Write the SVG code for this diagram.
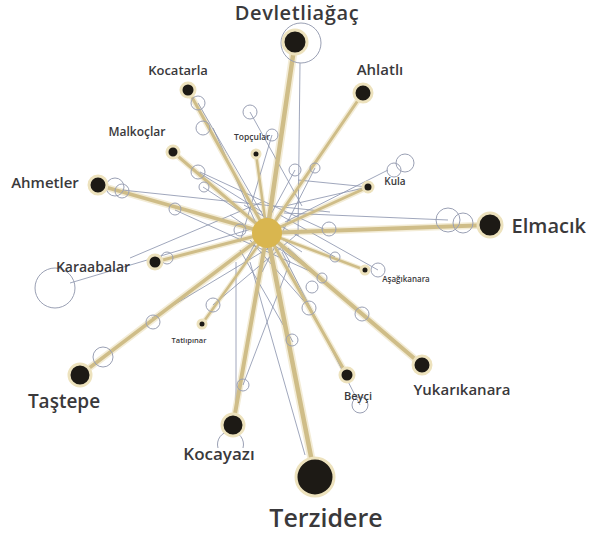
<svg xmlns="http://www.w3.org/2000/svg" width="589" height="541" viewBox="0 0 589 541">
<style>
.thin{stroke:#8891ab;stroke-width:0.8;fill:none}
.ring{stroke:#9aa0b4;stroke-width:1;fill:none}
.glow{stroke:#f3ecd6;stroke-linecap:round;fill:none}
.bar{stroke:#cfbd88;stroke-linecap:round;fill:none}
.dot{fill:#1d1a15;stroke:#ede2bd;stroke-width:3}
.lbl{font-family:"Open Sans","Liberation Sans",sans-serif;font-weight:600;fill:#3a393b;text-anchor:middle}
</style>
<rect width="589" height="541" fill="#ffffff"/>
<g id="connectors">
<g id="thick-glow">
<line class="glow" stroke-width="8" x1="267" y1="233" x2="295" y2="42"/>
<line class="glow" stroke-width="6" x1="267" y1="233" x2="363" y2="93"/>
<line class="glow" stroke-width="6" x1="267" y1="233" x2="188" y2="90"/>
<line class="glow" stroke-width="6" x1="267" y1="233" x2="173" y2="152"/>
<line class="glow" stroke-width="5" x1="267" y1="233" x2="256" y2="154"/>
<line class="glow" stroke-width="6" x1="267" y1="233" x2="368" y2="187"/>
<line class="glow" stroke-width="7" x1="267" y1="233" x2="98" y2="185"/>
<line class="glow" stroke-width="7" x1="267" y1="233" x2="490" y2="225"/>
<line class="glow" stroke-width="6" x1="267" y1="233" x2="155" y2="262"/>
<line class="glow" stroke-width="5" x1="267" y1="233" x2="365" y2="270"/>
<line class="glow" stroke-width="5" x1="267" y1="233" x2="202" y2="324"/>
<line class="glow" stroke-width="7" x1="267" y1="233" x2="80" y2="375"/>
<line class="glow" stroke-width="7" x1="267" y1="233" x2="233" y2="425"/>
<line class="glow" stroke-width="8" x1="267" y1="233" x2="315" y2="477"/>
<line class="glow" stroke-width="6" x1="267" y1="233" x2="347" y2="375"/>
<line class="glow" stroke-width="7" x1="267" y1="233" x2="422" y2="365"/>
</g>
<g id="thin-lines">
<line class="thin" x1="300" y1="63" x2="298" y2="236"/>
<line class="thin" x1="198" y1="103" x2="290" y2="262"/>
<line class="thin" x1="250" y1="112" x2="302" y2="206"/>
<line class="thin" x1="272" y1="135" x2="240" y2="242"/>
<line class="thin" x1="122" y1="190" x2="330" y2="212"/>
<line class="thin" x1="285" y1="206" x2="368" y2="187"/>
<line class="thin" x1="298" y1="180" x2="368" y2="187"/>
<line class="thin" x1="200" y1="172" x2="330" y2="232"/>
<line class="thin" x1="70" y1="283" x2="268" y2="224"/>
<line class="thin" x1="130" y1="258" x2="262" y2="202"/>
<line class="thin" x1="152" y1="318" x2="272" y2="246"/>
<line class="thin" x1="213" y1="305" x2="302" y2="230"/>
<line class="thin" x1="236" y1="262" x2="236" y2="415"/>
<line class="thin" x1="243" y1="385" x2="290" y2="262"/>
<line class="thin" x1="293" y1="342" x2="240" y2="250"/>
<line class="thin" x1="310" y1="308" x2="250" y2="240"/>
<line class="thin" x1="362" y1="315" x2="288" y2="248"/>
<line class="thin" x1="378" y1="270" x2="280" y2="215"/>
<line class="thin" x1="360" y1="405" x2="282" y2="252"/>
<line class="thin" x1="322" y1="278" x2="230" y2="215"/>
<line class="thin" x1="315" y1="168" x2="262" y2="272"/>
<line class="thin" x1="295" y1="170" x2="245" y2="262"/>
<line class="thin" x1="388" y1="170" x2="285" y2="222"/>
<line class="thin" x1="448" y1="220" x2="284" y2="213"/>
<line class="thin" x1="175" y1="210" x2="312" y2="272"/>
<line class="thin" x1="203" y1="187" x2="302" y2="252"/>
<line class="thin" x1="250" y1="262" x2="305" y2="455"/>
<line class="thin" x1="198" y1="172" x2="262" y2="212"/>
<line class="thin" x1="213" y1="128" x2="268" y2="250"/>
<line class="thin" x1="335" y1="257" x2="244" y2="205"/>
</g>
<g id="thick-bars">
<line class="bar" stroke-width="4.5" x1="267" y1="233" x2="295" y2="42"/>
<line class="bar" stroke-width="3" x1="267" y1="233" x2="363" y2="93"/>
<line class="bar" stroke-width="3" x1="267" y1="233" x2="188" y2="90"/>
<line class="bar" stroke-width="3" x1="267" y1="233" x2="173" y2="152"/>
<line class="bar" stroke-width="2.5" x1="267" y1="233" x2="256" y2="154"/>
<line class="bar" stroke-width="3" x1="267" y1="233" x2="368" y2="187"/>
<line class="bar" stroke-width="3.5" x1="267" y1="233" x2="98" y2="185"/>
<line class="bar" stroke-width="4" x1="267" y1="233" x2="490" y2="225"/>
<line class="bar" stroke-width="3" x1="267" y1="233" x2="155" y2="262"/>
<line class="bar" stroke-width="2.5" x1="267" y1="233" x2="365" y2="270"/>
<line class="bar" stroke-width="2.5" x1="267" y1="233" x2="202" y2="324"/>
<line class="bar" stroke-width="3.5" x1="267" y1="233" x2="80" y2="375"/>
<line class="bar" stroke-width="4" x1="267" y1="233" x2="233" y2="425"/>
<line class="bar" stroke-width="4.5" x1="267" y1="233" x2="315" y2="477"/>
<line class="bar" stroke-width="3" x1="267" y1="233" x2="347" y2="375"/>
<line class="bar" stroke-width="4" x1="267" y1="233" x2="422" y2="365"/>
</g>
</g>
<g id="rings">
<circle class="ring" cx="301" cy="43" r="20"/>
<circle class="ring" cx="198" cy="103" r="7"/>
<circle class="ring" cx="203" cy="128" r="7"/>
<circle class="ring" cx="250" cy="112" r="7"/>
<circle class="ring" cx="272" cy="135" r="6"/>
<circle class="ring" cx="198" cy="172" r="7"/>
<circle class="ring" cx="204" cy="187" r="5"/>
<circle class="ring" cx="175" cy="209" r="6"/>
<circle class="ring" cx="295" cy="170" r="6"/>
<circle class="ring" cx="315" cy="168" r="5"/>
<circle class="ring" cx="394" cy="170" r="7"/>
<circle class="ring" cx="405" cy="163" r="9"/>
<circle class="ring" cx="448" cy="220" r="12"/>
<circle class="ring" cx="463" cy="223" r="10"/>
<circle class="ring" cx="329" cy="229" r="7"/>
<circle class="ring" cx="378" cy="270" r="7"/>
<circle class="ring" cx="335" cy="257" r="5"/>
<circle class="ring" cx="322" cy="278" r="5"/>
<circle class="ring" cx="312" cy="287" r="6"/>
<circle class="ring" cx="309" cy="308" r="7"/>
<circle class="ring" cx="362" cy="314" r="7"/>
<circle class="ring" cx="292" cy="340" r="6"/>
<circle class="ring" cx="360" cy="405" r="8"/>
<circle class="ring" cx="243" cy="385" r="6"/>
<path class="ring" d="M218,448 A13,13 0 1 1 243,448"/>
<circle class="ring" cx="213" cy="305" r="7"/>
<circle class="ring" cx="153" cy="322" r="7"/>
<circle class="ring" cx="103" cy="357" r="10"/>
<circle class="ring" cx="167" cy="258" r="6"/>
<circle class="ring" cx="55" cy="288" r="20"/>
<circle class="ring" cx="115" cy="187" r="9"/>
<circle class="ring" cx="122" cy="191" r="7"/>
<circle class="ring" cx="240" cy="230" r="6"/>
</g>
<g id="hub"><circle cx="267" cy="233" r="15" fill="#d9b64f"/></g>
<g id="devletliagac"><circle class="dot" cx="295" cy="42" r="12"/><text class="lbl" x="297" y="20" font-size="20" letter-spacing="0.6">Devletliağaç</text></g>
<g id="ahlatli"><circle class="dot" cx="363" cy="93" r="9"/><text class="lbl" x="380" y="75" font-size="15">Ahlatlı</text></g>
<g id="kocatarla"><circle class="dot" cx="188" cy="90" r="7"/><text class="lbl" x="178" y="75" font-size="13">Kocatarla</text></g>
<g id="malkoclar"><circle class="dot" cx="173" cy="152" r="6"/><text class="lbl" x="137" y="136" font-size="12">Malkoçlar</text></g>
<g id="topcular"><circle class="dot" cx="256" cy="154" r="4" stroke-width="2"/><text class="lbl" x="252" y="140" font-size="8.5">Topçular</text></g>
<g id="kula"><circle class="dot" cx="368" cy="187" r="5" stroke-width="2"/><text class="lbl" x="395" y="185" font-size="10">Kula</text></g>
<g id="ahmetler"><circle class="dot" cx="98" cy="185" r="9"/><text class="lbl" x="45" y="188" font-size="15">Ahmetler</text></g>
<g id="elmacik"><circle class="dot" cx="490" cy="225" r="12"/><text class="lbl" x="586" y="233" font-size="20" style="text-anchor:end">Elmacık</text></g>
<g id="karaabalar"><circle class="dot" cx="155" cy="262" r="7"/><text class="lbl" x="93" y="272" font-size="14">Karaabalar</text></g>
<g id="asagikanara"><circle class="dot" cx="365" cy="270" r="4" stroke-width="2"/><text class="lbl" x="406" y="282" font-size="8">Aşağıkanara</text></g>
<g id="tatlipinar"><circle class="dot" cx="202" cy="324" r="4" stroke-width="2"/><text class="lbl" x="189" y="343" font-size="7.5">Tatlıpınar</text></g>
<g id="tastepe"><circle class="dot" cx="80" cy="375" r="11"/><text class="lbl" x="64" y="408" font-size="19">Taştepe</text></g>
<g id="kocayazi"><circle class="dot" cx="233" cy="425" r="11"/><text class="lbl" x="219" y="460" font-size="17">Kocayazı</text></g>
<g id="terzidere"><circle class="dot" cx="315" cy="477" r="19"/><text class="lbl" x="326" y="527" font-size="25">Terzidere</text></g>
<g id="beyci"><circle class="dot" cx="347" cy="375" r="7"/><text class="lbl" x="358" y="400" font-size="11">Beyçi</text></g>
<g id="yukarikanara"><circle class="dot" cx="422" cy="365" r="9"/><text class="lbl" x="462" y="395" font-size="15">Yukarıkanara</text></g>
</svg>
